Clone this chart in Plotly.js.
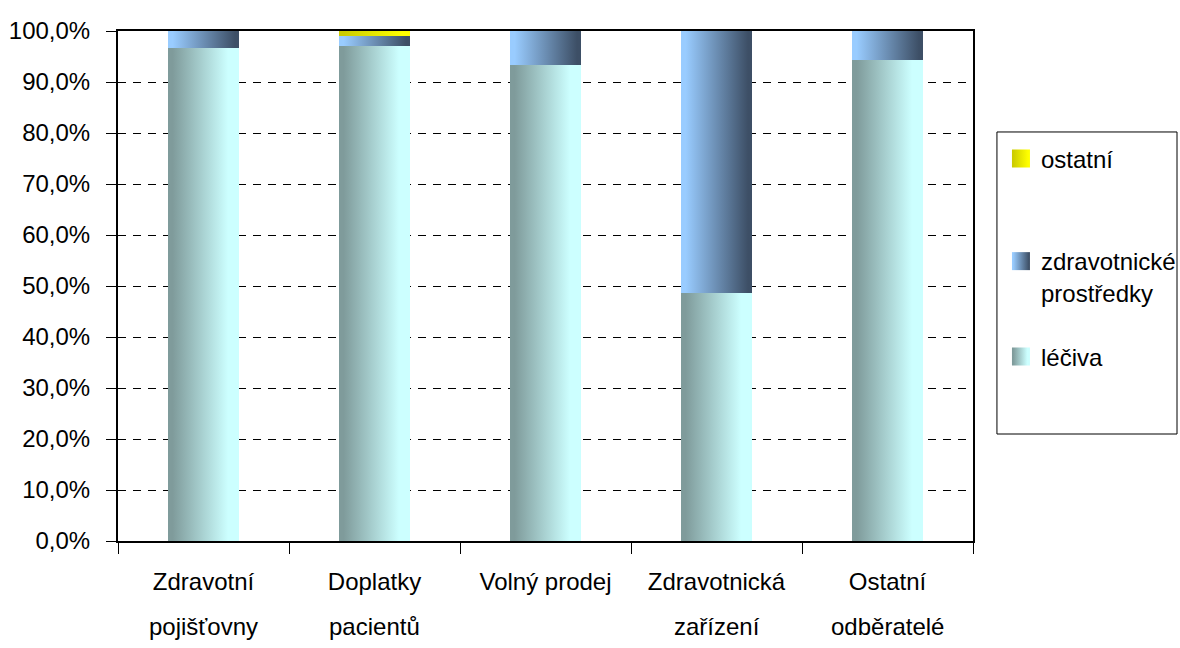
<!DOCTYPE html>
<html>
<head>
<meta charset="utf-8">
<script src="https://cdn.plot.ly/plotly-3.0.1.min.js"></script>
<style>html,body{margin:0;padding:0;background:#fff;}#chart{width:1180px;height:648px;}</style>
</head>
<body>
<div id="chart"></div>
<script>
// ---- data ----
var categories = ['Zdravotní pojišťovny', 'Doplatky pacientů', 'Volný prodej', 'Zdravotnická zařízení', 'Ostatní odběratelé'];
var labelLine1 = ['Zdravotní', 'Doplatky', 'Volný prodej', 'Zdravotnická', 'Ostatní'];
var labelLine2 = ['pojišťovny', 'pacientů', '', 'zařízení', 'odběratelé'];
var seriesNames = ['léčiva', 'zdravotnické<br>prostředky', 'ostatní'];
var leciva = [96.7, 97.1, 93.3, 48.6, 94.3];
var zdravotnicke = [3.3, 2.0, 6.7, 51.4, 5.7];
var ostatni = [0, 0.9, 0, 0, 0];
var yTicks = [0, 10, 20, 30, 40, 50, 60, 70, 80, 90, 100];
var yTickLabels = ['0,0%', '10,0%', '20,0%', '30,0%', '40,0%', '50,0%', '60,0%', '70,0%', '80,0%', '90,0%', '100,0%'];

// ---- styles ----
var FONT = 'Liberation Sans, Arial, sans-serif';
var FS = 24;
var gradients = [
  {id: 'gLeciva', stops: [[0, '#7f9b9b'], [0.06, '#7f9b9b'], [0.85, '#ccffff'], [1, '#ccffff']]},
  {id: 'gZdrav', stops: [[0, '#99ccff'], [0.06, '#99ccff'], [0.95, '#3d4f66'], [1, '#3d4f66']]},
  {id: 'gOstatni', stops: [[0, '#cccc00'], [0.06, '#cccc00'], [0.9, '#ffff00'], [1, '#ffff00']]}
];
var solid = ['#a6cccc', '#6a8eb2', '#e6e600'];
var legendNames = ['legend3', 'legend2', 'legend'];

var seriesValues = [leciva, zdravotnicke, ostatni];
var data = seriesValues.map(function (vals, i) {
  return {
    type: 'bar',
    x: categories,
    y: vals,
    name: seriesNames[i],
    width: 0.41,
    marker: {color: solid[i], line: {width: 0}},
    legend: legendNames[i],
    showlegend: true,
    hoverinfo: 'skip'
  };
});

var annotations = categories.map(function (c, i) {
  return {
    x: c, xref: 'x', y: -0.1686, yref: 'paper',
    text: labelLine2[i], showarrow: false,
    xanchor: 'center', yanchor: 'middle',
    font: {family: FONT, size: FS, color: '#000'}
  };
});

function legendDef(y) {
  return {
    visible: true,
    x: 1.0327, xanchor: 'left', y: y, yanchor: 'middle',
    bgcolor: 'rgba(0,0,0,0)', borderwidth: 0, valign: 'top',
    font: {family: FONT, size: FS, color: '#000'}
  };
}

var layout = {
  width: 1180, height: 648,
  margin: {l: 118, r: 207, t: 31, b: 107, pad: 0, autoexpand: false},
  paper_bgcolor: '#fff', plot_bgcolor: '#fff',
  barmode: 'stack',
  showlegend: true,
  font: {family: FONT, size: FS, color: '#000'},
  xaxis: {
    type: 'category',
    tickvals: categories,
    ticktext: labelLine1,
    tickson: 'boundaries',
    ticks: 'outside', ticklen: 11, tickwidth: 1, tickcolor: '#000',
    ticklabelstandoff: 18,
    showline: true, linewidth: 2, linecolor: '#000', mirror: true,
    showgrid: false, zeroline: false, automargin: false,
    tickfont: {family: FONT, size: FS, color: '#000'}
  },
  yaxis: {
    range: [0, 100],
    tickvals: yTicks,
    ticktext: yTickLabels,
    ticks: 'outside', ticklen: 10, tickwidth: 1, tickcolor: '#000',
    ticklabelstandoff: 11,
    showline: true, linewidth: 2, linecolor: '#000', mirror: true,
    showgrid: true, gridcolor: '#000', gridwidth: 1, griddash: '8px,7px',
    zeroline: false, automargin: false,
    tickfont: {family: FONT, size: FS, color: '#000'}
  },
  legend: legendDef(0.749),
  legend2: legendDef(0.5176),
  legend3: legendDef(0.3608),
  annotations: annotations,
  shapes: [{
    type: 'rect', xref: 'paper', yref: 'paper',
    x0: 1.028, x1: 1.2386, y0: 0.2098, y1: 0.802,
    line: {color: '#000', width: 1}, fillcolor: 'rgba(0,0,0,0)'
  }]
};

var gd = document.getElementById('chart');
Plotly.newPlot(gd, data, layout, {displayModeBar: false, staticPlot: true}).then(function () {
  var NS = 'http://www.w3.org/2000/svg';
  var svg = gd.querySelector('.main-svg');
  var defs = svg.querySelector('defs');
  if (!defs) { defs = document.createElementNS(NS, 'defs'); svg.insertBefore(defs, svg.firstChild); }
  gradients.forEach(function (g) {
    var lg = document.createElementNS(NS, 'linearGradient');
    lg.setAttribute('id', g.id);
    lg.setAttribute('x1', '0'); lg.setAttribute('y1', '0');
    lg.setAttribute('x2', '1'); lg.setAttribute('y2', '0');
    g.stops.forEach(function (s) {
      var st = document.createElementNS(NS, 'stop');
      st.setAttribute('offset', s[0]);
      st.setAttribute('stop-color', s[1]);
      lg.appendChild(st);
    });
    defs.appendChild(lg);
  });
  var traces = gd.querySelectorAll('.barlayer .trace');
  traces.forEach(function (t, i) {
    t.querySelectorAll('path').forEach(function (p) {
      p.style.setProperty('fill', 'url(#' + gradients[i].id + ')');
    });
  });
  gd.querySelectorAll('g.traces').forEach(function (el) {
    var d = el.__data__;
    var idx = d && d[0] && d[0].trace ? d[0].trace.index : null;
    if (idx === null || idx === undefined) return;
    el.querySelectorAll('.legendpoints path').forEach(function (p) {
      p.setAttribute('d', 'M9,9H-9V-9H9Z');
      p.style.setProperty('fill', 'url(#' + gradients[idx].id + ')');
      p.style.setProperty('stroke-width', '0');
    });
  });
});
</script>
</body>
</html>
